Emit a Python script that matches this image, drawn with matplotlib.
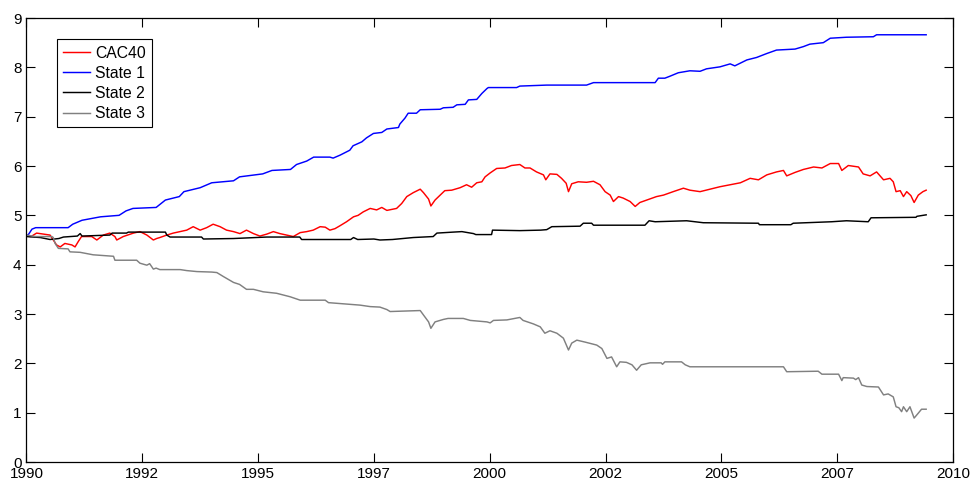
import numpy as np
import matplotlib.pyplot as plt

# values (year, level)

cac40_years = [1990.0, 1990.1, 1990.22, 1990.37, 1990.51, 1990.58, 1990.65, 1990.73, 1990.83, 1990.98,
               1991.05, 1991.12, 1991.19, 1991.41, 1991.52, 1991.66, 1991.8, 1991.91, 1991.95, 1992.09,
               1992.31, 1992.45, 1992.6, 1992.74, 1992.81, 1992.88, 1993.03, 1993.17, 1993.32, 1993.46,
               1993.6, 1993.75, 1993.89, 1994.03, 1994.18, 1994.32, 1994.47, 1994.61, 1994.75, 1994.9,
               1995.04, 1995.19, 1995.33, 1995.47, 1995.62, 1995.76, 1995.91, 1996.05, 1996.19, 1996.34,
               1996.45, 1996.55, 1996.66, 1996.77, 1996.91, 1997.06, 1997.16, 1997.27, 1997.42, 1997.56,
               1997.67, 1997.78, 1997.89, 1997.99, 1998.1, 1998.21, 1998.35, 1998.5, 1998.57, 1998.68,
               1998.73, 1998.82, 1998.93, 1999.03, 1999.18, 1999.36, 1999.5, 1999.61, 1999.72, 1999.83,
               1999.9, 2000.01, 2000.15, 2000.33, 2000.47, 2000.65, 2000.76, 2000.87, 2001.01, 2001.16,
               2001.21, 2001.3, 2001.45, 2001.55, 2001.65, 2001.7, 2001.77, 2001.91, 2002.09, 2002.24,
               2002.38, 2002.49, 2002.6, 2002.67, 2002.78, 2002.88, 2003.03, 2003.14, 2003.24, 2003.39,
               2003.6, 2003.75, 2003.96, 2004.18, 2004.32, 2004.54, 2004.76, 2004.97, 2005.19, 2005.41,
               2005.62, 2005.8, 2005.98, 2006.19, 2006.34, 2006.41, 2006.59, 2006.77, 2006.99, 2007.17,
               2007.35, 2007.53, 2007.6, 2007.74, 2007.96, 2008.06, 2008.21, 2008.35, 2008.5, 2008.64,
               2008.71, 2008.77, 2008.86, 2008.93, 2009.0, 2009.09, 2009.16, 2009.25, 2009.35, 2009.42]
cac40_values = [4.58, 4.57, 4.64, 4.62, 4.6, 4.5, 4.4, 4.36, 4.43, 4.40,
                4.36, 4.47, 4.57, 4.57, 4.5, 4.6, 4.64, 4.57, 4.5, 4.57,
                4.64, 4.67, 4.6, 4.5, 4.53, 4.55, 4.6, 4.64, 4.67, 4.70,
                4.77, 4.70, 4.75, 4.82, 4.77, 4.70, 4.67, 4.63, 4.70, 4.63,
                4.58, 4.62, 4.67, 4.63, 4.6, 4.57, 4.65, 4.67, 4.70, 4.77,
                4.76, 4.70, 4.73, 4.79, 4.87, 4.97, 5.0, 5.07, 5.14, 5.11,
                5.16, 5.10, 5.12, 5.14, 5.24, 5.38, 5.46, 5.53, 5.46, 5.33,
                5.19, 5.31, 5.41, 5.5, 5.51, 5.56, 5.62, 5.57, 5.66, 5.68,
                5.78, 5.86, 5.95, 5.96, 6.01, 6.03, 5.96, 5.96, 5.88, 5.82,
                5.72, 5.84, 5.83, 5.75, 5.65, 5.48, 5.64, 5.68, 5.67, 5.69,
                5.62, 5.48, 5.41, 5.28, 5.38, 5.35, 5.28, 5.18, 5.26, 5.31,
                5.38, 5.41, 5.48, 5.55, 5.51, 5.48, 5.53, 5.58, 5.62, 5.66,
                5.75, 5.72, 5.82, 5.88, 5.91, 5.80, 5.87, 5.93, 5.98, 5.96,
                6.05, 6.05, 5.91, 6.01, 5.98, 5.84, 5.80, 5.88, 5.72, 5.75,
                5.68, 5.48, 5.50, 5.38, 5.48, 5.40, 5.26, 5.41, 5.48, 5.51]

state1_years = [1990.0, 1990.05, 1990.12, 1990.2, 1990.9, 1991.0, 1991.2, 1991.6, 1992.0, 1992.15,
                1992.3, 1992.8, 1993.0, 1993.3, 1993.4, 1993.75, 1994.0, 1994.47, 1994.6, 1995.1,
                1995.3, 1995.7, 1995.83, 1996.05, 1996.2, 1996.55, 1996.62, 1996.77, 1996.98, 1997.05,
                1997.24, 1997.34, 1997.49, 1997.67, 1997.78, 1998.03, 1998.06, 1998.17, 1998.24, 1998.42,
                1998.5, 1998.93, 1999.0, 1999.21, 1999.29, 1999.47, 1999.54, 1999.72, 1999.83, 1999.94,
                1999.97, 2000.58, 2000.65, 2001.23, 2002.09, 2002.24, 2003.57, 2003.64, 2003.78, 2003.89,
                2004.07, 2004.32, 2004.54, 2004.68, 2004.97, 2005.19, 2005.29, 2005.55, 2005.76, 2005.98,
                2006.19, 2006.59, 2006.77, 2006.91, 2007.2, 2007.35, 2007.7, 2008.28, 2008.35, 2009.42]
state1_values = [4.58, 4.62, 4.72, 4.75, 4.75, 4.82, 4.9, 4.97, 5.0, 5.09,
                 5.14, 5.16, 5.31, 5.38, 5.48, 5.56, 5.66, 5.70, 5.78, 5.84,
                 5.91, 5.93, 6.03, 6.10, 6.18, 6.18, 6.16, 6.22, 6.32, 6.41,
                 6.49, 6.57, 6.66, 6.68, 6.75, 6.78, 6.85, 6.97, 7.07, 7.07,
                 7.14, 7.15, 7.18, 7.19, 7.24, 7.25, 7.34, 7.35, 7.47, 7.57,
                 7.59, 7.59, 7.62, 7.64, 7.64, 7.69, 7.69, 7.78, 7.78, 7.82,
                 7.89, 7.93, 7.92, 7.97, 8.01, 8.07, 8.03, 8.15, 8.20, 8.28,
                 8.35, 8.37, 8.42, 8.47, 8.50, 8.59, 8.61, 8.62, 8.66, 8.66]

state2_years = [1990.0, 1990.3, 1990.51, 1990.7, 1990.8, 1991.1, 1991.16, 1991.2, 1991.8, 1991.85,
                1992.16, 1992.2, 1993.0, 1993.03, 1993.1, 1993.78, 1993.82, 1994.47, 1995.19, 1995.9,
                1995.94, 1997.0, 1997.06, 1997.15, 1997.5, 1997.63, 1997.9, 1998.35, 1998.78, 1998.86,
                1999.21, 1999.4, 1999.65, 1999.7, 2000.04, 2000.06, 2000.65, 2001.1, 2001.23, 2001.34,
                2001.95, 2002.02, 2002.2, 2002.24, 2003.35, 2003.44, 2003.57, 2004.25, 2004.61, 2005.8,
                2005.82, 2006.5, 2006.55, 2007.38, 2007.7, 2008.17, 2008.23, 2009.2, 2009.22, 2009.42]
state2_values = [4.57, 4.55, 4.51, 4.53, 4.56, 4.58, 4.63, 4.58, 4.6, 4.64,
                 4.64, 4.66, 4.66, 4.6, 4.56, 4.56, 4.52, 4.53, 4.56, 4.56,
                 4.51, 4.51, 4.55, 4.51, 4.52, 4.5, 4.51, 4.55, 4.57, 4.64,
                 4.66, 4.67, 4.63, 4.61, 4.61, 4.70, 4.69, 4.70, 4.71, 4.77,
                 4.78, 4.84, 4.84, 4.80, 4.80, 4.89, 4.87, 4.89, 4.85, 4.84,
                 4.81, 4.81, 4.84, 4.87, 4.89, 4.87, 4.95, 4.96, 4.98, 5.01]

state3_years = [1990.0, 1990.2, 1990.55, 1990.58, 1990.62, 1990.69, 1990.9, 1990.94, 1991.16, 1991.44,
                1991.88, 1991.91, 1992.38, 1992.45, 1992.56, 1992.6, 1992.66, 1992.74, 1992.8, 1992.88,
                1993.32, 1993.46, 1993.68, 1994.0, 1994.11, 1994.25, 1994.47, 1994.6, 1994.75, 1994.9,
                1995.11, 1995.4, 1995.69, 1995.91, 1996.45, 1996.52, 1997.2, 1997.42, 1997.63, 1997.78,
                1997.85, 1998.5, 1998.57, 1998.68, 1998.73, 1998.82, 1999.0, 1999.1, 1999.43, 1999.58,
                1999.94, 2000.01, 2000.08, 2000.37, 2000.65, 2000.72, 2000.94, 2001.09, 2001.19, 2001.3,
                2001.45, 2001.59, 2001.7, 2001.77, 2001.88, 2002.06, 2002.31, 2002.42, 2002.53, 2002.63,
                2002.74, 2002.81, 2002.95, 2003.07, 2003.17, 2003.27, 2003.46, 2003.7, 2003.73, 2003.78,
                2004.14, 2004.22, 2004.32, 2006.34, 2006.41, 2007.09, 2007.17, 2007.53, 2007.6, 2007.63,
                2007.85, 2007.9, 2007.96, 2008.03, 2008.14, 2008.39, 2008.5, 2008.6, 2008.71, 2008.77,
                2008.83, 2008.89, 2008.93, 2009.0, 2009.07, 2009.16, 2009.25, 2009.32, 2009.42]
state3_values = [4.6, 4.57, 4.57, 4.55, 4.43, 4.33, 4.32, 4.26, 4.25, 4.2,
                 4.17, 4.09, 4.09, 4.03, 4.0, 3.99, 4.02, 3.91, 3.93, 3.9,
                 3.9, 3.88, 3.86, 3.85, 3.84, 3.76, 3.64, 3.6, 3.5, 3.5,
                 3.45, 3.42, 3.35, 3.28, 3.28, 3.23, 3.18, 3.15, 3.14, 3.09,
                 3.05, 3.07, 2.98, 2.84, 2.71, 2.84, 2.89, 2.91, 2.91, 2.87,
                 2.84, 2.82, 2.87, 2.88, 2.93, 2.87, 2.80, 2.74, 2.61, 2.66,
                 2.61, 2.51, 2.27, 2.41, 2.47, 2.43, 2.37, 2.30, 2.10, 2.13,
                 1.93, 2.03, 2.02, 1.97, 1.86, 1.97, 2.01, 2.01, 1.98, 2.03,
                 2.03, 1.97, 1.93, 1.93, 1.83, 1.84, 1.78, 1.78, 1.65, 1.71,
                 1.70, 1.67, 1.71, 1.56, 1.53, 1.52, 1.36, 1.38, 1.32, 1.12,
                 1.10, 1.02, 1.12, 1.02, 1.12, 0.89, 0.99, 1.07, 1.07]

series_labels = ['CAC40', 'State 1', 'State 2', 'State 3']
series_colors = ['#ff0000', '#0000ff', '#000000', '#808080']

tick_years = [1990, 1992.5, 1995, 1997.5, 2000, 2002.5, 2005, 2007.5, 2010]
tick_labels = ['1990', '1992', '1995', '1997', '2000', '2002', '2005', '2007', '2010']


def plot_states():
    plt.rcParams['font.family'] = ['Liberation Sans', 'DejaVu Sans']
    plt.rcParams['font.size'] = 11

    fig = plt.figure(figsize=(9.71, 4.80), dpi=100)
    ax = fig.add_axes([0.0272, 0.0375, 0.9543, 0.925])

    series = [(cac40_years, cac40_values), (state1_years, state1_values),
              (state2_years, state2_values), (state3_years, state3_values)]
    for (xs, ys), label, color in zip(series, series_labels, series_colors):
        ax.plot(xs, ys, color=color, lw=1.05, label=label)

    ax.set_xlim(1990, 2010)
    ax.set_ylim(0, 9)
    ax.set_xticks(tick_years)
    ax.set_xticklabels(tick_labels)
    ax.set_yticks(np.arange(0, 10))

    ax.tick_params(direction='in', length=6.5, width=0.8, top=True, right=True,
                   pad=3.5, labelsize=11)
    for spine in ax.spines.values():
        spine.set_linewidth(0.9)

    # legend box in the upper-left corner, as in the original figure
    leg = ax.legend(loc='upper left', bbox_to_anchor=(0.0327, 0.952), borderaxespad=0,
                    fancybox=False, framealpha=1, edgecolor='black', fontsize=11.3,
                    handlelength=1.75, handletextpad=0.3, labelspacing=0.33,
                    borderpad=0.4)
    leg.get_frame().set_linewidth(0.8)

    fig.savefig('out.png', dpi=100)


plot_states()
